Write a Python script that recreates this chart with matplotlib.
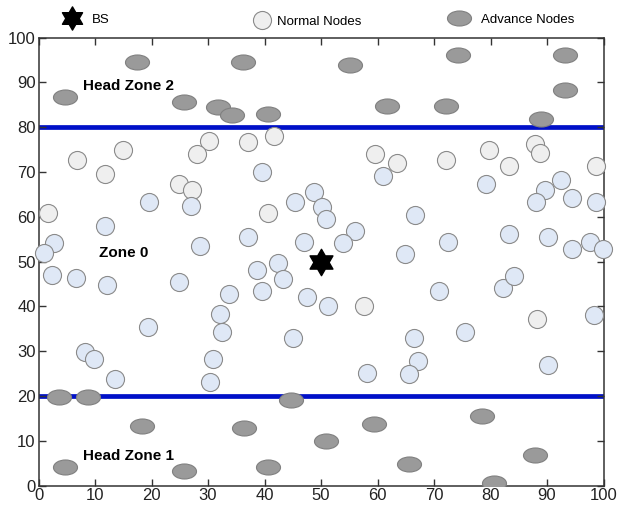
import matplotlib.pyplot as plt
import matplotlib.path as mpath
from matplotlib.transforms import Affine2D

plt.rcParams['font.family'] = ['Liberation Sans', 'DejaVu Sans']

# base station
bs_x = [50]
bs_y = [50]

# normal nodes (light grey fill)
normal_grey_x = [6.9, 14.9, 11.8, 30.1, 28.0, 24.9, 27.1, 1.7, 37.0, 41.7, 59.6,
                 63.5, 40.7, 72.2, 79.7, 83.3, 87.8, 88.8, 98.6, 57.6, 88.3]
normal_grey_y = [72.7, 74.8, 69.6, 76.9, 74.0, 67.4, 66.0, 60.9, 76.7, 78.1, 74.0,
                 72.1, 60.8, 72.7, 74.8, 71.4, 76.2, 74.2, 71.4, 40.2, 37.1]

# normal nodes (light blue fill)
normal_blue_x = [27.0, 19.6, 11.8, 2.7, 0.9, 28.6, 39.6, 60.9, 48.8, 45.4, 50.1,
                 50.8, 66.7, 37.0, 47.0, 56.0, 53.9, 64.9, 42.4, 79.2, 92.5, 89.7,
                 88.1, 94.4, 98.6, 72.5, 83.3, 90.2, 94.4, 97.6, 99.9, 2.4, 6.6,
                 12.2, 24.9, 33.8, 32.2, 32.4, 19.3, 8.2, 9.8, 30.8, 13.5, 30.3,
                 38.6, 43.3, 39.6, 47.5, 51.2, 45.1, 66.5, 67.1, 65.5, 58.2, 70.8,
                 82.3, 84.2, 98.3, 75.4, 90.2]
normal_blue_y = [62.3, 63.3, 58.0, 54.2, 52.0, 53.5, 70.0, 69.0, 65.5, 63.4, 62.1,
                 59.5, 60.4, 55.4, 54.4, 56.8, 54.1, 51.6, 49.7, 67.3, 68.2, 66.0,
                 63.4, 64.2, 63.3, 54.4, 56.2, 55.4, 52.8, 54.3, 52.8, 47.0, 46.3,
                 44.8, 45.5, 42.8, 38.4, 34.4, 35.5, 29.8, 28.3, 28.3, 23.9, 23.1,
                 48.1, 46.1, 43.5, 42.1, 40.2, 33.0, 32.9, 27.8, 24.9, 25.1, 43.5,
                 44.1, 46.9, 38.1, 34.2, 26.9]

# advance nodes (head zones)
advance_x = [4.7, 17.4, 25.8, 31.8, 34.2, 36.2, 40.6, 55.1, 61.6, 72.1, 74.2,
             89.0, 93.2, 93.2,
             3.6, 8.7, 18.4, 4.7, 25.8, 44.7, 36.3, 40.6, 50.9, 59.3, 65.6,
             78.5, 87.9, 80.6]
advance_y = [86.8, 94.5, 85.6, 84.6, 82.7, 94.5, 83.0, 93.8, 84.8, 84.8, 96.2,
             81.9, 96.2, 88.3,
             19.9, 19.7, 13.3, 4.1, 3.2, 19.2, 12.9, 4.1, 10.0, 13.8, 4.9,
             15.6, 6.9, 0.5]

zone_bounds = [20, 80]
ticks = list(range(0, 101, 10))

fig = plt.figure(figsize=(6.23, 5.11), dpi=100)
ax = fig.add_axes([0.0618, 0.0495, 0.9069, 0.8771])

for yb in zone_bounds:
    ax.axhline(yb, color='#0010C8', lw=3.4, zorder=1)

ax.plot(normal_grey_x, normal_grey_y, 'o', ms=13, mfc='#EFEFEF', mec='#8A8A8A',
        mew=0.8, zorder=2.6, clip_on=False)
ax.plot(normal_blue_x, normal_blue_y, 'o', ms=13, mfc='#DFE8F6', mec='#8A8A8A',
        mew=0.8, zorder=2.6, clip_on=False)

ellipse = Affine2D().scale(1.6, 1.0).transform_path(mpath.Path.unit_circle())
adv, = ax.plot(advance_x, advance_y, ls='none', marker=ellipse, ms=17.3,
               mfc='#9A9A9A', mec='#808080', mew=0.8, zorder=3)

hexagram = mpath.Path.unit_regular_star(6, 0.577)
bs, = ax.plot(bs_x, bs_y, ls='none', marker=hexagram, ms=19, color='black', zorder=4)

norm_handle, = ax.plot([], [], 'o', ms=13, mfc='#EFEFEF', mec='#8A8A8A', mew=0.8)

ax.text(7.9, 89.1, 'Head Zone 2', fontsize=11, fontweight='bold', va='center')
ax.text(10.7, 51.9, 'Zone 0', fontsize=11, fontweight='bold', va='center')
ax.text(7.9, 6.6, 'Head Zone 1', fontsize=11, fontweight='bold', va='center')

ax.set_xlim(0, 100)
ax.set_ylim(0, 100)
ax.set_xticks(ticks)
ax.set_yticks(ticks)
ax.tick_params(direction='in', length=5, width=1, top=True, right=True,
               labelsize=12, labelcolor='#222222', color='#333333', pad=2)
for s in ax.spines.values():
    s.set_linewidth(1.1)
    s.set_color('#333333')

leg_kw = dict(frameon=False, fontsize=9.5, loc='center left', borderpad=0,
              borderaxespad=0, handlelength=1.0, numpoints=1)
fig.legend([bs], ['BS'], bbox_to_anchor=(0.105, 0.962), handletextpad=1.0,
           markerscale=0.88, **leg_kw)
fig.legend([norm_handle], ['Normal Nodes'], bbox_to_anchor=(0.410, 0.957),
           handletextpad=0.64, **leg_kw)
fig.legend([adv], ['Advance Nodes'], bbox_to_anchor=(0.726, 0.961),
           handletextpad=1.17, **leg_kw)

fig.savefig('out.png', dpi=100)
